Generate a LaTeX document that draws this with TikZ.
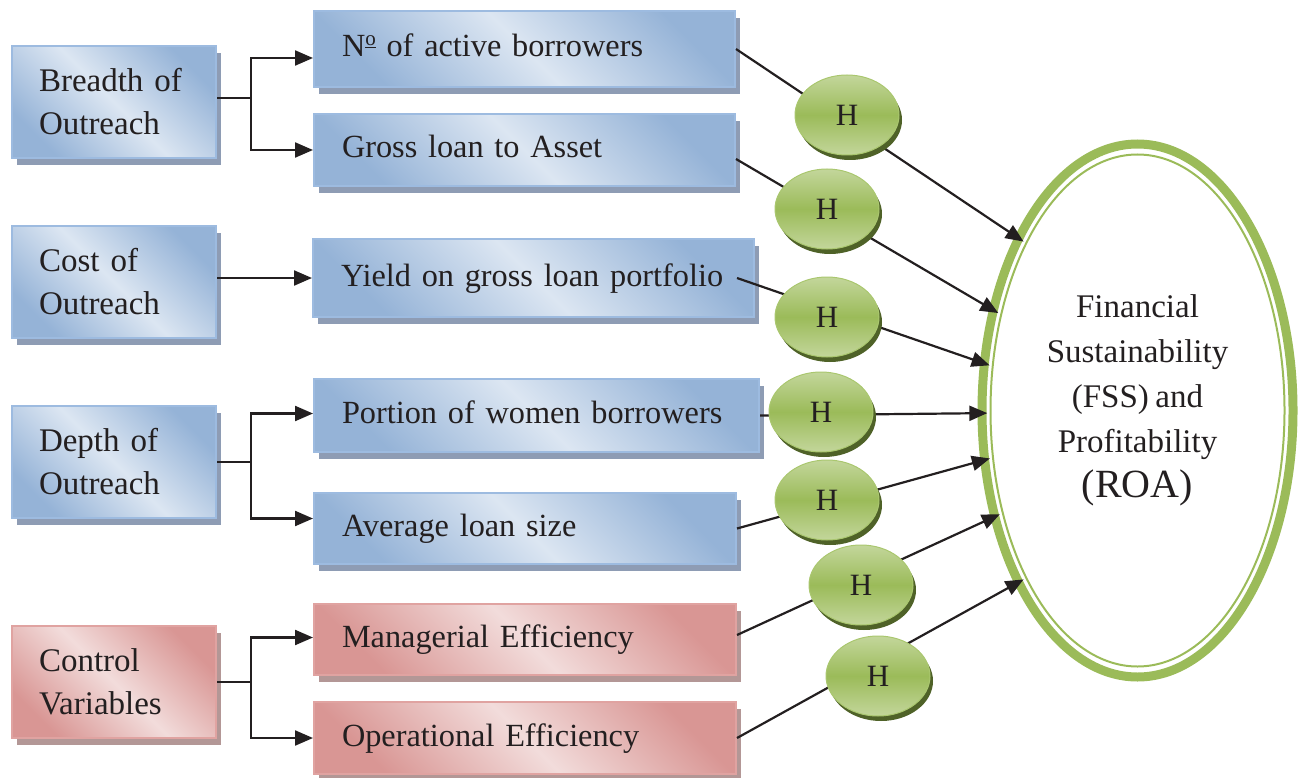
\documentclass[tikz,border=0pt]{standalone}
\usepackage{fontspec}
\setmainfont{Liberation Serif}[WordSpace=0.8]
\usetikzlibrary{shapes.geometric,arrows.meta,shadows,calc}
\definecolor{bdk}{HTML}{95B3D7}
\definecolor{blt}{HTML}{DCE6F2}
\definecolor{bbord}{HTML}{9DBBE0}
\definecolor{bshad}{HTML}{8E9CB4}
\definecolor{rdk}{HTML}{D99694}
\definecolor{rlt}{HTML}{F2DCDB}
\definecolor{rbord}{HTML}{E0A3A1}
\definecolor{rshad}{HTML}{B39796}
\definecolor{gm}{HTML}{9BBB59}
\definecolor{gl}{HTML}{C3D69B}
\definecolor{gbord}{HTML}{AAC76F}
\definecolor{gshad}{HTML}{4F6228}
\definecolor{ring}{HTML}{9BBB59}
\definecolor{txt}{HTML}{231F20}
\newcommand{\numsign}{N\raisebox{11pt}{\fontsize{21}{21}\selectfont\underline{o}}}
\begin{document}
\begin{tikzpicture}[x=1pt,y=-1pt,
  every node/.style={text=txt},
  bluefill/.style={top color=bdk,bottom color=bdk,middle color=blt,shading angle=-45,draw=bbord,
    drop shadow={shadow xshift=5pt,shadow yshift=-7pt,fill=bshad,opacity=1}},
  redfill/.style={top color=rdk,bottom color=rdk,middle color=rlt,shading angle=-45,draw=rbord,
    drop shadow={shadow xshift=5pt,shadow yshift=-7pt,fill=rshad,opacity=1}},
  lbox/.style={rectangle,line width=2pt,anchor=north west,inner xsep=27pt,inner ysep=0pt,
    minimum height=112pt,minimum width=204pt,text width=150pt,align=left,
    font=\fontsize{33}{43}\selectfont},
  mbox/.style={rectangle,line width=2pt,anchor=north west,inner xsep=28pt,inner ysep=0pt,
    text height=24pt,text depth=8pt,align=left,font=\fontsize{32.3}{43}\selectfont},
  hyp/.style={ellipse,minimum width=104pt,minimum height=80pt,inner sep=0pt,
    top color=gl,bottom color=gl,middle color=gm,draw=gbord,line width=1pt,
    drop shadow={shadow xshift=3pt,shadow yshift=-5pt,fill=gshad,opacity=1},
    font=\fontsize{31}{31}\selectfont},
  conn/.style={line width=2.2pt,draw=txt},
  arr/.style={conn,-{Triangle[length=18pt,width=15pt]}},
]
\useasboundingbox (0,0) rectangle (1305,778);

% big target ellipse
\node[ellipse,minimum width=300pt,minimum height=518pt,inner sep=0pt] (fss) at (1137.5,410.5) {};
\draw[ring,line width=9pt] (fss.center) ellipse [x radius=155.5pt,y radius=266.5pt];
\draw[ring,line width=2pt] (fss.center) ellipse [x radius=147pt,y radius=256pt];
\node[font=\fontsize{33}{45}\selectfont,align=center] (fsstext) at (1137.5,400)
  {Financial\\Sustainability\\(FSS) and\\Profitability\\{\fontsize{40}{45}\selectfont (ROA)}};

% left boxes
\node[lbox,bluefill] (breadth) at (11,45) {Breadth of\\Outreach};
\node[lbox,bluefill] (cost) at (11,225) {Cost of\\Outreach};
\node[lbox,bluefill] (depth) at (11,405) {Depth of\\Outreach};
\node[lbox,redfill] (control) at (11,625) {Control\\Variables};

% middle boxes
\node[mbox,bluefill,minimum width=421pt,minimum height=76pt,text width=365pt] (nab) at (313,10) {\mbox{\numsign{} of active borrowers}};
\node[mbox,bluefill,minimum width=421pt,minimum height=72pt,text width=365pt] (gla) at (313,113) {\mbox{Gross loan to Asset}};
\node[mbox,bluefill,minimum width=441pt,minimum height=78pt,text width=385pt] (yield) at (312,238) {\mbox{Yield on gross loan portfolio}};
\node[mbox,bluefill,minimum width=445pt,minimum height=73pt,text width=389pt] (portion) at (313,378) {\mbox{Portion of women borrowers}};
\node[mbox,bluefill,minimum width=422pt,minimum height=71pt,text width=366pt] (avg) at (313,492) {\mbox{Average loan size}};
\node[mbox,redfill,minimum width=422pt,minimum height=71pt,text width=366pt] (man) at (313,603) {\mbox{Managerial Efficiency}};
\node[mbox,redfill,minimum width=422pt,minimum height=72pt,text width=366pt] (oper) at (313,701) {\mbox{Operational Efficiency}};

% left connectors
\draw[conn] ([yshift=4pt]breadth.east) -- ++(34,0) coordinate (bj);
\draw[arr] (bj) |- ([yshift=-9pt]nab.west);
\draw[arr] (bj) |- (gla.west);
\draw[arr] (cost.east |- yield.west) -- (yield.west);
\draw[conn] (depth.east) -- ++(34,0) coordinate (dj);
\draw[arr] (dj) |- ([yshift=2pt]portion.west);
\draw[arr] (dj) |- ([yshift=10pt]avg.west);
\draw[conn] (control.east) -- ++(34,0) coordinate (cj);
\draw[arr] (cj) |- ([yshift=2pt]man.west);
\draw[arr] (cj) |- (oper.west);

% connectors to target
\draw[arr] (nab.east) -- (fss.124.8);
\draw[arr] ([yshift=-9pt]gla.east) -- (fss.145);
\draw[arr] ([xshift=-18pt]yield.east) -- (fss.163.4);
\draw[arr] (portion.east) -- (fss.181.5);
\draw[arr] (avg.east) -- (fss.198.7);
\draw[arr] ([yshift=4.5pt]man.east) -- (fss.217.4);
\draw[arr] (oper.east) -- (fss.236.9);

% hypothesis ellipses
\node[hyp] (h1) at (847,115) {H};
\node[hyp] (h2) at (827,209) {H};
\node[hyp] (h3) at (827,317) {H};
\node[hyp] (h4) at (821,412) {H};
\node[hyp] (h5) at (827,500) {H};
\node[hyp] (h6) at (861,585) {H};
\node[hyp] (h7) at (878,676) {H};
\end{tikzpicture}
\end{document}
